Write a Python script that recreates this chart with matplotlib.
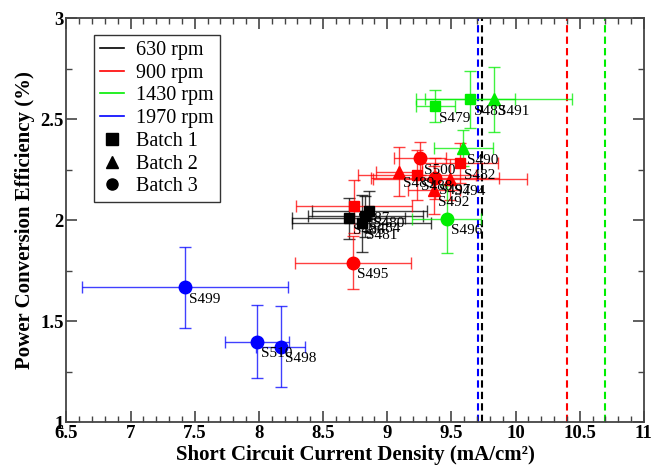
import numpy as np
import matplotlib.pyplot as plt
from matplotlib.lines import Line2D

plt.rcParams['font.family'] = ['Liberation Serif', 'DejaVu Serif']

# sample data
samples = ["S486", "S480", "S484", "S481",
           "S487", "S489", "S488", "S500", "S497", "S494", "S492", "S482", "S495",
           "S479", "S483", "S491", "S490", "S496",
           "S499", "S510", "S498"]
rpm = [630, 630, 630, 630,
       900, 900, 900, 900, 900, 900, 900, 900, 900,
       1430, 1430, 1430, 1430, 1430,
       1970, 1970, 1970]
batch = [1, 1, 1, 1,
         1, 2, 1, 3, 3, 2, 2, 1, 3,
         1, 1, 2, 2, 3,
         3, 3, 3]
jsc = [8.70, 8.86, 8.83, 8.80,
       8.74, 9.09, 9.23, 9.255, 9.37, 9.49, 9.365, 9.567, 8.734,
       9.376, 9.645, 9.832, 9.593, 9.463,
       7.424, 7.982, 8.169]
pce = [2.01, 2.045, 2.02, 1.985,
       2.07, 2.241, 2.225, 2.307, 2.208, 2.203, 2.15, 2.283, 1.791,
       2.566, 2.599, 2.599, 2.357, 2.007,
       1.669, 1.40, 1.375]
jsc_err = [0.44, 0.45, 0.45, 0.54,
           0.45, 0.18, 0.46, 0.20, 0.50, 0.60, 0.20, 0.30, 0.455,
           0.15, 0.35, 0.61, 0.23, 0.27,
           0.805, 0.25, 0.19]
pce_err = [0.10, 0.10, 0.10, 0.14,
           0.13, 0.12, 0.125, 0.08, 0.10, 0.10, 0.12, 0.10, 0.13,
           0.08, 0.14, 0.16, 0.09, 0.17,
           0.20, 0.18, 0.20]

# theoretical Jsc limits (dashed lines)
limit_rpm = [1970, 630, 900, 1430]
limit_jsc = [9.71, 9.74, 10.40, 10.70]

rpm_list = [630, 900, 1430, 1970]
colors = {630: "black", 900: "#ff0000", 1430: "#00ee00", 1970: "#0000ff"}
markers = {1: "s", 2: "^", 3: "o"}
msizes = {1: 7.5, 2: 9, 3: 9}

fig = plt.figure(figsize=(6.53, 4.73), dpi=100)
ax = fig.add_axes([0.1018, 0.1068, 0.8842, 0.8545])

for xv, c in zip(limit_jsc, limit_rpm):
    ax.axvline(xv, color=colors[c], ls=(0, (3.5, 2)), lw=1.5, zorder=1)

for i in range(len(samples)):
    c = colors[rpm[i]]
    ax.errorbar(jsc[i], pce[i], xerr=jsc_err[i], yerr=pce_err[i], fmt="none",
                ecolor=c, elinewidth=1, capsize=4, capthick=1, alpha=0.75, zorder=2)

for i in range(len(samples)):
    c = colors[rpm[i]]
    ax.plot(jsc[i], pce[i], marker=markers[batch[i]], ms=msizes[batch[i]],
            color=c, ls="none", zorder=3)
    ax.annotate(samples[i], (jsc[i], pce[i]), xytext=(4, -12),
                textcoords="offset pixels", fontsize=11, va="center", ha="left",
                zorder=4)

ax.set_xlim(6.5, 11)
ax.set_ylim(1, 3)
ax.set_xticks(np.arange(6.5, 11.01, 0.5))
ax.set_xticks(np.arange(6.5, 11.01, 0.1), minor=True)
ax.set_yticks(np.arange(1, 3.01, 0.5))
ax.set_yticks(np.arange(1, 3.01, 0.25), minor=True)
ax.set_xticklabels(["6.5", "7", "7.5", "8", "8.5", "9", "9.5", "10", "10.5", "11"])
ax.set_yticklabels(["1", "1.5", "2", "2.5", "3"])
ax.tick_params(which="both", direction="in", top=True, right=True, color="#444444")
ax.tick_params(which="major", length=8, width=1.2, pad=2, labelsize=13.5)
ax.tick_params(which="minor", length=4.5, width=1.0)
for lab in ax.get_xticklabels() + ax.get_yticklabels():
    lab.set_fontweight("bold")
for sp in ax.spines.values():
    sp.set_color("#444444")
    sp.set_linewidth(1.3)

ax.set_xlabel("Short Circuit Current Density (mA/cm²)", fontsize=15,
              fontweight="bold", labelpad=2)
ax.set_ylabel("Power Conversion Efficiency (%)", fontsize=15,
              fontweight="bold", labelpad=4)

handles = [Line2D([], [], color=colors[r], lw=1.2) for r in rpm_list]
handles += [Line2D([], [], color="black", marker=markers[b], ls="none", ms=8)
            for b in [1, 2, 3]]
labels = [f"{r} rpm" for r in rpm_list] + [f"Batch {b}" for b in [1, 2, 3]]
leg = ax.legend(handles, labels, loc="upper left", bbox_to_anchor=(0.047, 0.959),
                borderaxespad=0, fontsize=14.5, frameon=True, fancybox=False,
                edgecolor="black", handlelength=1.2, handletextpad=0.6,
                labelspacing=0.18, borderpad=0.3)
leg.get_frame().set_linewidth(1.0)

fig.savefig("out.png", dpi=100)
